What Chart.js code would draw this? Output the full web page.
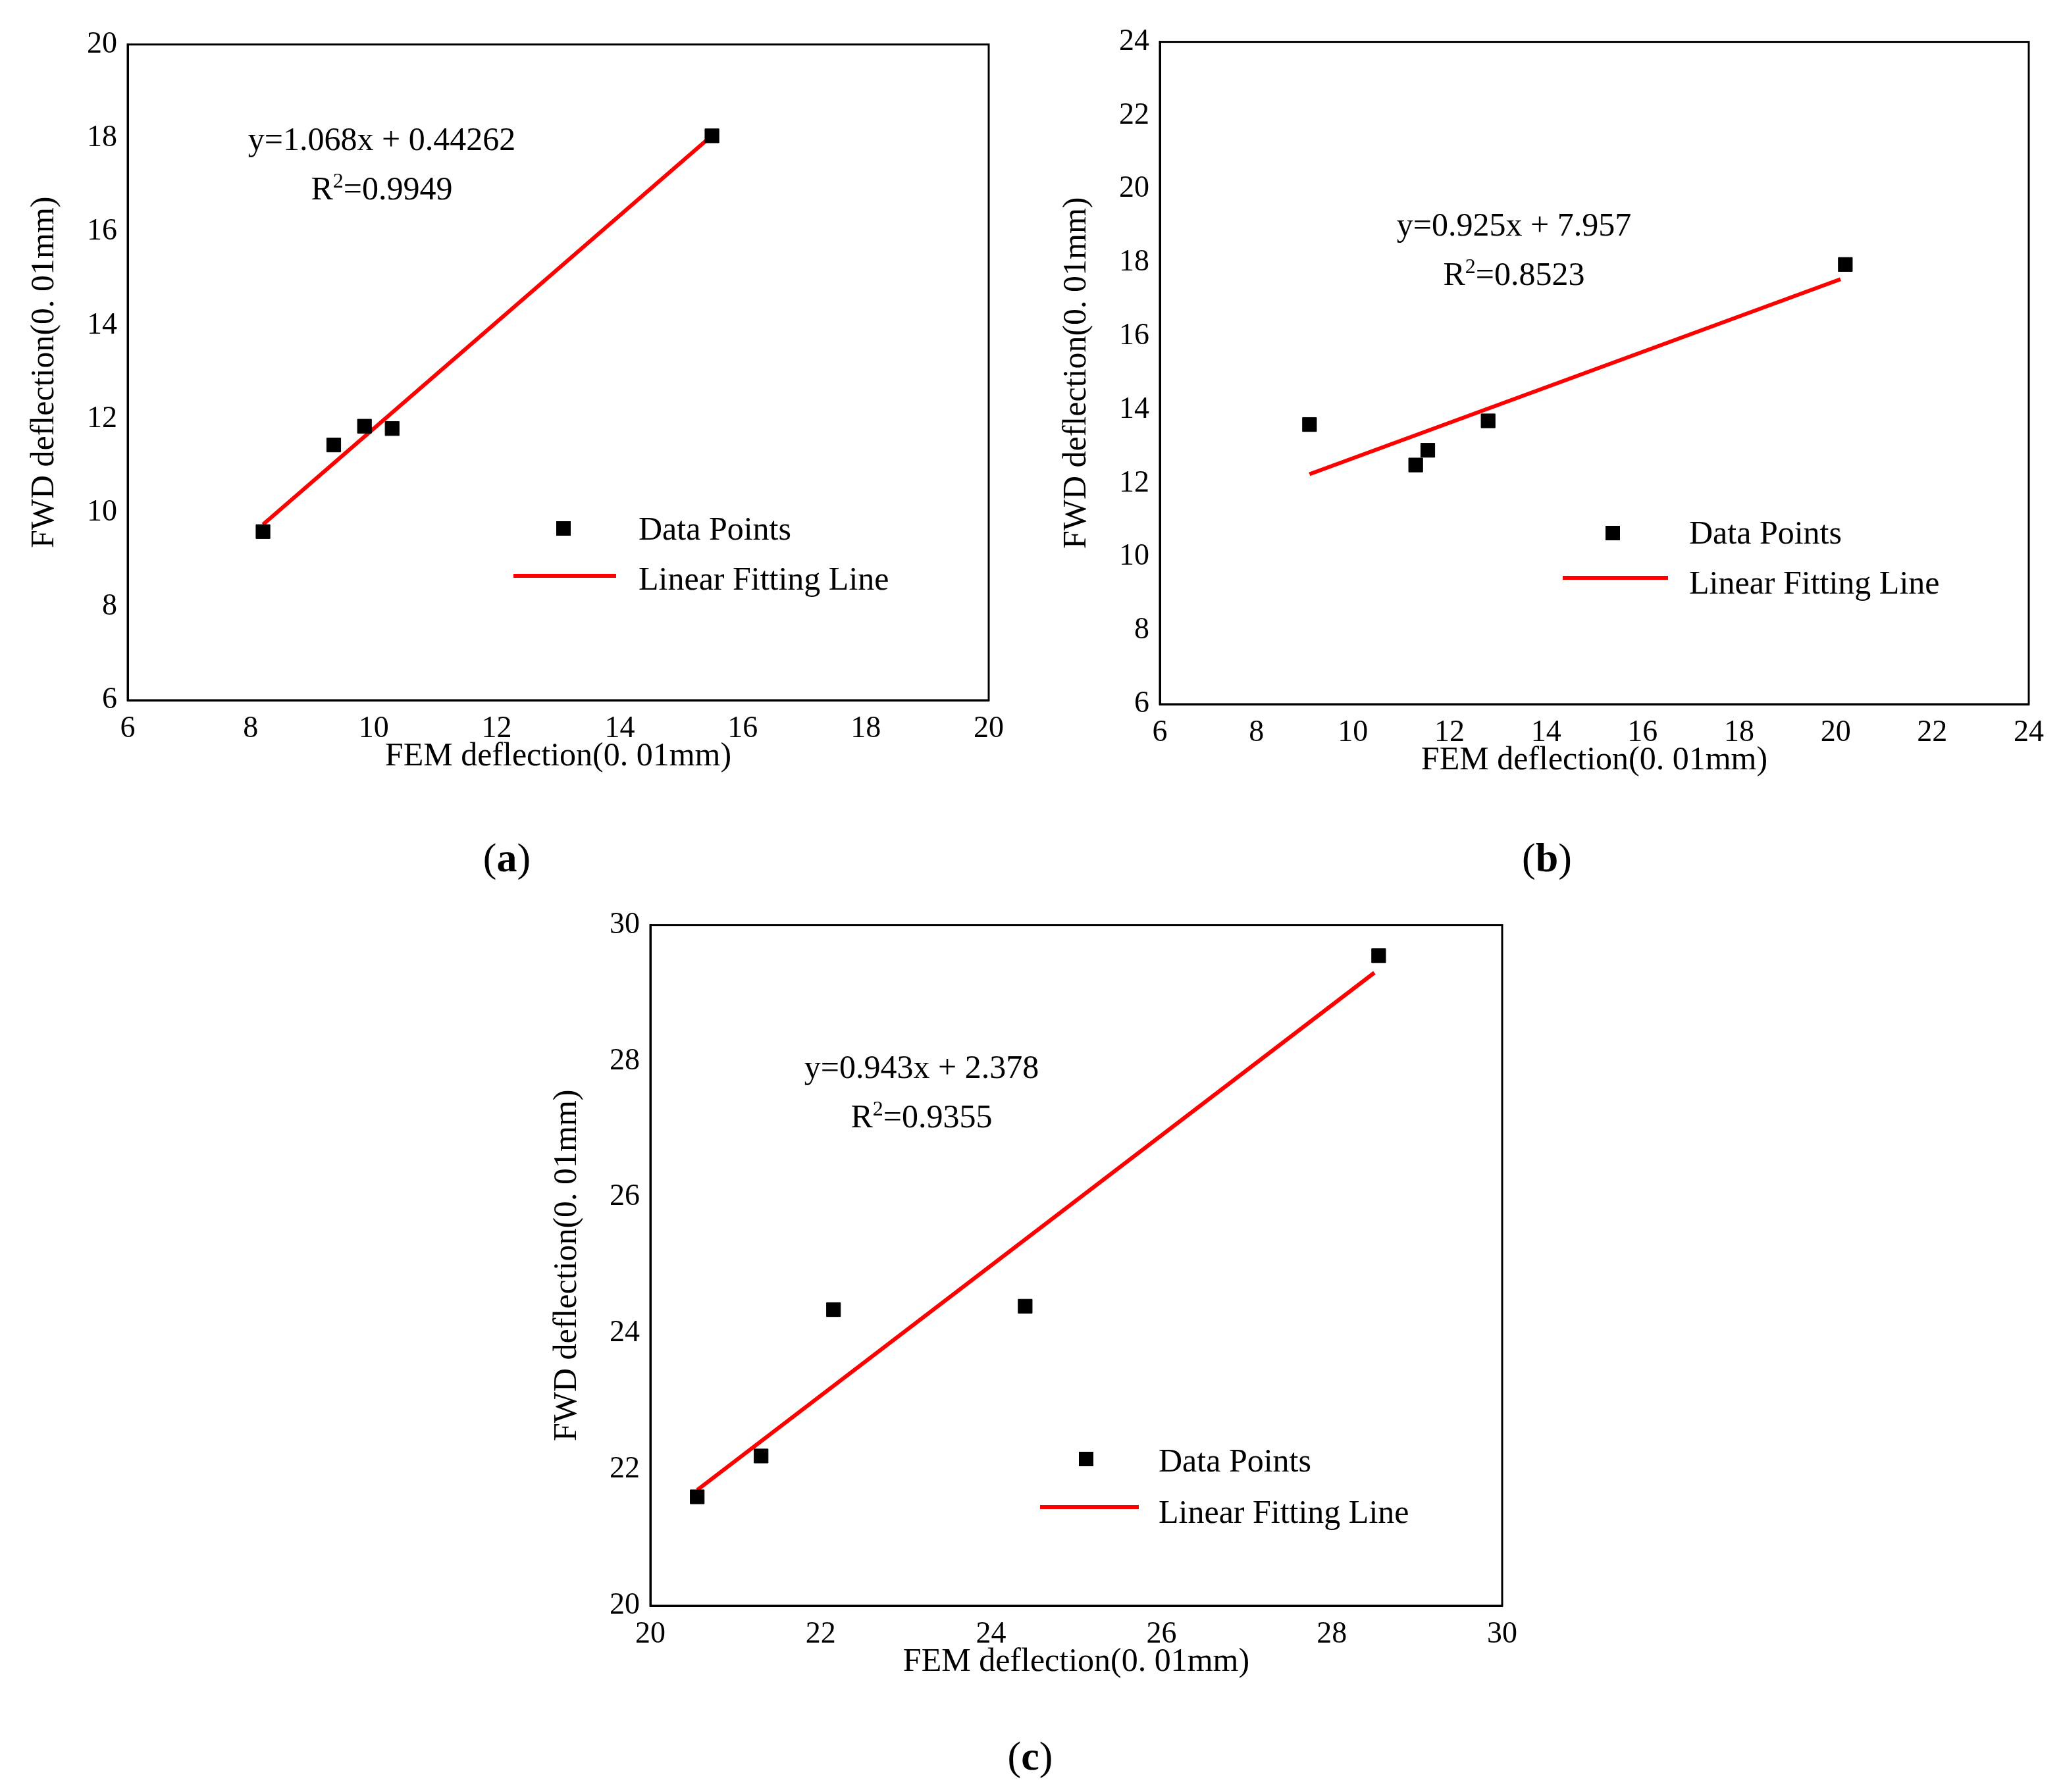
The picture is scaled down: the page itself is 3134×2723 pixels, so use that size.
<!DOCTYPE html>
<html><head><meta charset="utf-8">
<script src="https://cdn.jsdelivr.net/npm/chart.js@4"></script>
<style>
body{margin:0;background:#fff;width:3134px;height:2723px;position:relative;overflow:hidden;font-family:"Liberation Serif",serif;}
.box{position:absolute}
.t{position:absolute;font-size:50px;color:#000;white-space:nowrap;font-family:"Liberation Serif",serif}
.c{transform:translateX(-50%)}
.sq{position:absolute;width:22px;height:22px;background:#000}
.ln{position:absolute;height:6px;background:#f00}
.lab{position:absolute;font-size:62px;transform:translateX(-50%)}
</style></head><body>
<div class="box" id="ba"><canvas id="ca"></canvas></div>
<div class="box" id="bb"><canvas id="cb"></canvas></div>
<div class="box" id="bc"><canvas id="cc"></canvas></div>

<div class="t c" style="left:580px;top:182px">y=1.068x + 0.44262</div>
<div class="t c" style="left:580px;top:256px">R<sup style="font-size:32px">2</sup>=0.9949</div>
<div class="sq" style="left:845px;top:792px"></div><div class="t" style="left:970px;top:774px">Data Points</div>
<div class="ln" style="left:780px;top:872px;width:156px"></div><div class="t" style="left:970px;top:850px">Linear Fitting Line</div>
<div class="lab" style="left:770px;top:1268px">(<b>a</b>)</div>

<div class="t c" style="left:2300px;top:312px">y=0.925x + 7.957</div>
<div class="t c" style="left:2300px;top:386px">R<sup style="font-size:32px">2</sup>=0.8523</div>
<div class="sq" style="left:2439px;top:799px"></div><div class="t" style="left:2566px;top:780px">Data Points</div>
<div class="ln" style="left:2374px;top:875px;width:160px"></div><div class="t" style="left:2566px;top:856px">Linear Fitting Line</div>
<div class="lab" style="left:2350px;top:1268px">(<b>b</b>)</div>

<div class="t c" style="left:1400px;top:1592px">y=0.943x + 2.378</div>
<div class="t c" style="left:1400px;top:1666px">R<sup style="font-size:32px">2</sup>=0.9355</div>
<div class="sq" style="left:1639px;top:2206px"></div><div class="t" style="left:1760px;top:2190px">Data Points</div>
<div class="ln" style="left:1580px;top:2287px;width:150px"></div><div class="t" style="left:1760px;top:2268px">Linear Fitting Line</div>
<div class="lab" style="left:1565px;top:2633px">(<b>c</b>)</div>

<script>
const fxA=[8.2,9.35,9.85,10.3,15.5], fyA=[9.6,11.45,11.85,11.8,18.05];
const lxA=[8.2,15.45], lyA=[9.75,18.0];
const fxB=[9.1,11.3,11.55,12.8,20.2], fyB=[13.6,12.5,12.9,13.7,17.95];
const lxB=[9.1,20.1], lyB=[12.25,17.55];
const fxC=[20.55,21.3,22.15,24.4,28.55], fyC=[21.6,22.2,24.35,24.4,29.55];
const lxC=[20.55,28.5], lyC=[21.7,29.3];
const xTitle="FEM deflection(0. 01mm)", yTitle="FWD deflection(0. 01mm)";

const YW=160, XH=120, PT=30, PR=50;
function make(id,box,L,T,R,B,xs,ys,lx,ly,min,max){
  const W=R-L,H=B-T;
  const b=document.getElementById(box);
  b.style.left=(L-YW)+'px';b.style.top=(T-PT)+'px';
  b.style.width=(W+YW+PR)+'px';b.style.height=(H+PT+XH)+'px';
  const font={family:'"Liberation Serif", serif',size:46};
  const ax=(title,isY)=>({type:'linear',min:min[isY?1:0],max:max[isY?1:0],
    ticks:{stepSize:2,color:'#000',font,padding:8},
    grid:{display:false,drawTicks:true,tickLength:8},
    border:{color:'#000',width:3},
    title:{display:true,text:title,color:'#000',font:{family:'"Liberation Serif", serif',size:50},padding:4},
    afterFit:s=>{if(isY)s.width=YW;else s.height=XH;}});
  new Chart(document.getElementById(id),{
    type:'scatter',
    data:{datasets:[
      {data:xs.map((x,i)=>({x,y:ys[i]})),pointStyle:'rect',pointRadius:15,backgroundColor:'#000',borderColor:'#000'},
      {type:'line',data:lx.map((x,i)=>({x,y:ly[i]})),borderColor:'#f00',borderWidth:6,pointRadius:0,fill:false}
    ]},
    options:{responsive:true,maintainAspectRatio:false,animation:false,
      layout:{padding:{top:PT,right:PR,left:0,bottom:0}},
      plugins:{legend:{display:false},tooltip:{enabled:false}},
      scales:{x:ax(xTitle,false),y:ax(yTitle,true)}},
    plugins:[{id:'frame',afterDraw(c){const a=c.chartArea,g=c.ctx;g.save();g.strokeStyle='#000';g.lineWidth=3;g.strokeRect(a.left,a.top,a.right-a.left,a.bottom-a.top);g.restore();}}]
  });
}
make('ca','ba',194,62,1502,1064,fxA,fyA,lxA,lyA,[6,6],[20,20]);
make('cb','bb',1762,58,3082,1070,fxB,fyB,lxB,lyB,[6,6],[24,24]);
make('cc','bc',988,1400,2282,2440,fxC,fyC,lxC,lyC,[20,20],[30,30]);
</script></body></html>
